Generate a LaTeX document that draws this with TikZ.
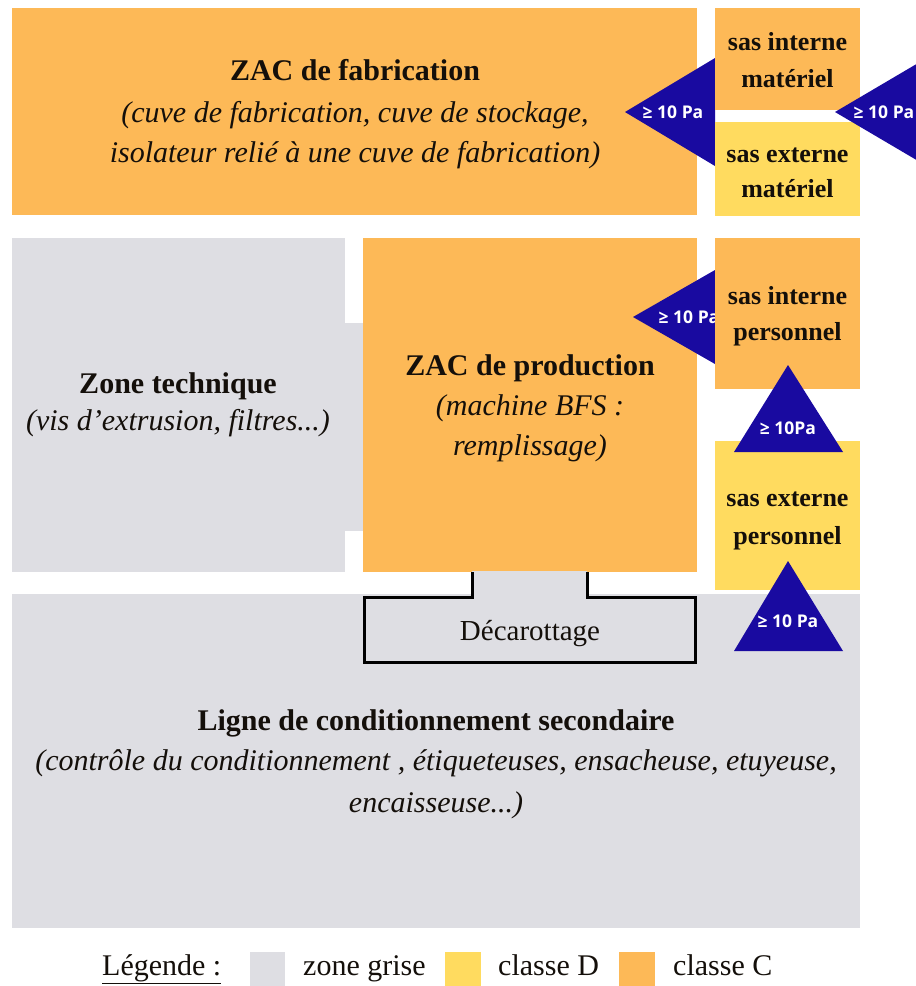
\documentclass[tikz,border=0pt]{standalone}
\usepackage{fontspec}
\setmainfont{Liberation Serif}
\newfontfamily\pafont{Open Sans}
\definecolor{classC}{RGB}{253,185,87}
\definecolor{classD}{RGB}{255,219,95}
\definecolor{grise}{RGB}{222,222,227}
\definecolor{flux}{RGB}{25,10,160}
\definecolor{ink}{RGB}{20,15,10}
\tikzset{
  ttl/.style={anchor=base,inner sep=0pt,text=ink,font=\fontsize{30}{36}\selectfont\bfseries},
  sub/.style={anchor=base,inner sep=0pt,text=ink,font=\fontsize{30}{36}\selectfont\itshape},
  sas/.style={anchor=base,inner sep=0pt,text=ink,font=\fontsize{26}{31}\selectfont\bfseries},
  plain/.style={anchor=base west,inner sep=0pt,text=ink,font=\fontsize{30}{36}\selectfont},
  pa/.style={anchor=base,inner sep=0pt,text=white,font=\pafont\fontsize{17.5}{21}\selectfont\bfseries},
  arrowtri/.style={fill=flux,draw=none},
}
\begin{document}
\begin{tikzpicture}[x=1pt,y=-1pt]
\useasboundingbox (0,0) rectangle (916,986);
\clip (0,0) rectangle (916,986);

% rooms
\fill[classC] (12,8) rectangle (697,215);
\fill[grise] (12,238) rectangle (345,572);
\fill[grise] (344,323) rectangle (364,531);
\fill[classC] (363,238) rectangle (697,572);
\fill[grise] (12,594) rectangle (860,928);

% decarottage outlet
\fill[grise] (472,571) -- (472,597) -- (364,597) -- (364,662) -- (695,662) -- (695,597) -- (587,597) -- (587,571) -- cycle;
\draw[line width=3pt,black] (472,572) -- (472,597) -- (364,597) -- (364,662) -- (695,662) -- (695,597) -- (587,597) -- (587,572);

% pressure steps under the airlocks
\fill[arrowtri] (625,112) -- (715,58) -- (715,166) -- cycle;
\node[pa] (p1) at (673,118) {≥ 10 Pa};
\fill[arrowtri] (633,317) -- (715,270) -- (715,364) -- cycle;
\node[pa] (p3) at (689,323) {≥ 10 Pa};

% airlocks
\fill[classC] (715,8) rectangle (860,110);
\fill[classD] (715,122) rectangle (860,216);
\fill[classC] (715,238) rectangle (860,389);
\fill[classD] (715,441) rectangle (860,590);

% pressure steps over the airlocks
\fill[arrowtri] (835,112) -- (925,59) -- (925,165) -- cycle;
\node[pa] (p2) at (884,118) {≥ 10 Pa};
\fill[arrowtri] (788,365) -- (843,452) -- (734,452) -- cycle;
\node[pa] (p4) at (788,434) {≥ 10Pa};
\fill[arrowtri] (788,561) -- (843,651) -- (734,651) -- cycle;
\node[pa] (p5) at (788,627) {≥ 10 Pa};

% texts
\node[ttl] (fabT) at (355,80) {ZAC de fabrication};
\node[sub] (fab1) at (355,122) {(cuve de fabrication, cuve de stockage,};
\node[sub] (fab2) at (355,162) {isolateur relié à une cuve de fabrication)};

\node[sas] (sim1) at (787.5,50) {sas interne};
\node[sas] (sim2) at (787.5,87) {matériel};
\node[sas] (sem1) at (787.5,162) {sas externe};
\node[sas] (sem2) at (787.5,197) {matériel};

\node[ttl] (techT) at (178,393) {Zone technique};
\node[sub] (tech1) at (178,430) {(vis d’extrusion, filtres...)};

\node[ttl] (prodT) at (530,375) {ZAC de production};
\node[sub] (prod1) at (530,415) {(machine BFS :};
\node[sub] (prod2) at (530,455) {remplissage)};

\node[sas] (sip1) at (787.5,304) {sas interne};
\node[sas] (sip2) at (787.5,340) {personnel};
\node[sas] (sep1) at (787.5,506) {sas externe};
\node[sas] (sep2) at (787.5,544) {personnel};

\node[anchor=base,inner sep=0pt,text=ink,font=\fontsize{29}{35}\selectfont] (deca) at (530,640) {Décarottage};

\node[ttl] (ligT) at (436,730) {Ligne de conditionnement secondaire};
\node[sub] (lig1) at (436,770) {(contrôle du conditionnement , étiqueteuses, ensacheuse, etuyeuse,};
\node[sub] (lig2) at (436,812) {encaisseuse...)};

% legend
\node[plain] (leg) at (102,975) {\underline{Légende :}};
\fill[grise] (250,952) rectangle (285,990);
\node[plain] (legG) at (303,975) {zone grise};
\fill[classD] (445,952) rectangle (481,990);
\node[plain] (legD) at (498,975) {classe D};
\fill[classC] (619,952) rectangle (655,990);
\node[plain] (legC) at (673,975) {classe C};
\end{tikzpicture}
\end{document}
